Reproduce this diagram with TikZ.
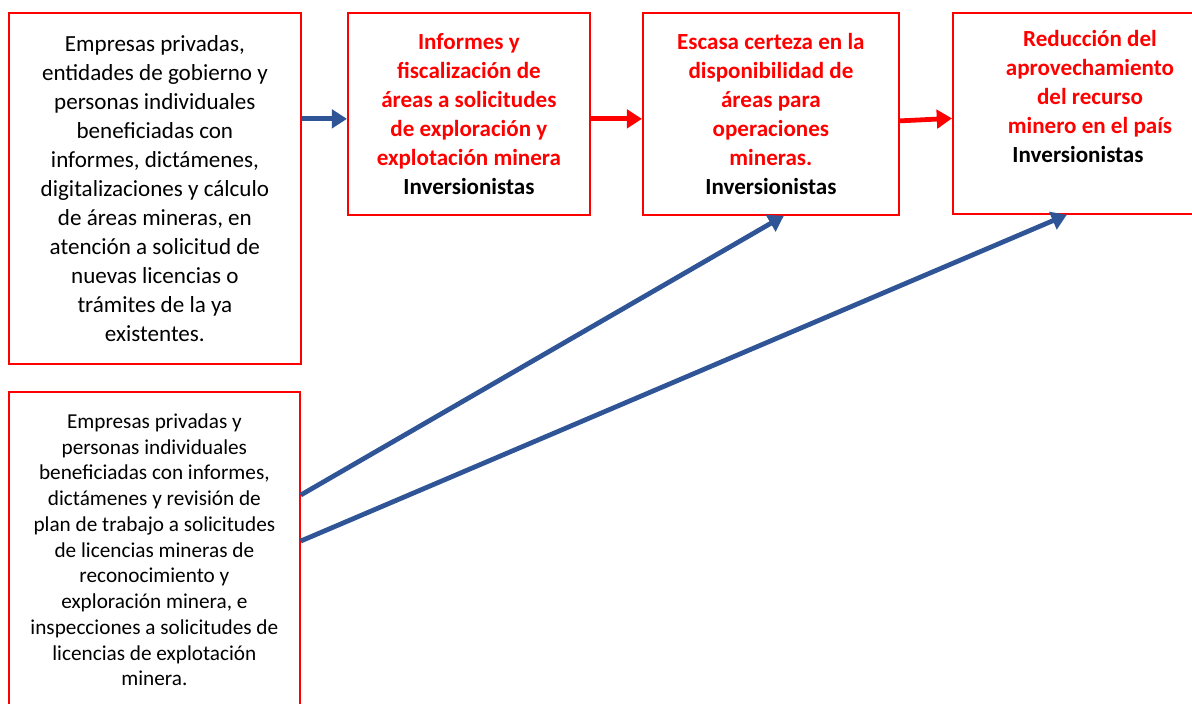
\documentclass[tikz,border=0pt]{standalone}
\usepackage{fontspec}
\setmainfont{Carlito}
\usepackage{xcolor}
\usepackage{tikz}
\usetikzlibrary{arrows.meta,positioning}
\definecolor{boxred}{HTML}{FF0000}
\definecolor{arrblue}{HTML}{2F5597}
\newcommand{\bigtxt}{\fontsize{16.4}{20.6}\selectfont}
\newcommand{\smalltxt}{\fontsize{15.1}{18.3}\selectfont}

\begin{document}
\begin{tikzpicture}[
x=0.025cm,y=-0.025cm,
box/.style={draw=boxred,line width=1.2pt,anchor=north west,align=center,inner sep=0pt,font=\bigtxt},
redtxt/.style={font=\bigtxt\bfseries,text=boxred,align=center},
barr/.style={-{Triangle[length=3.8mm,width=4.6mm]},line width=3.4pt,color=arrblue},
rarr/.style={-{Triangle[length=3.8mm,width=4.6mm]},line width=3.4pt,color=boxred}
]
\useasboundingbox (0,0) rectangle (1192,704);
\begin{scope}
\clip (0,0) rectangle (1192,704);
\node[box,minimum width=7.3cm,minimum height=8.775cm] (b1) at (8,12) {Empresas privadas,\\entidades de gobierno y\\personas individuales\\beneficiadas con\\informes, dictámenes,\\digitalizaciones y cálculo\\de áreas mineras, en\\atención a solicitud de\\nuevas licencias o\\trámites de la ya\\existentes.};
\node[box,minimum width=6.05cm,minimum height=5.05cm] (b2) at (347,12) {\textcolor{boxred}{\bfseries Informes y}\\\textcolor{boxred}{\bfseries fiscalización de}\\\textcolor{boxred}{\bfseries áreas a solicitudes}\\\textcolor{boxred}{\bfseries de exploración y}\\\textcolor{boxred}{\bfseries explotación minera}\\\bfseries Inversionistas};
\node[box,minimum width=6.4cm,minimum height=5.05cm] (b3) at (642,12) {\textcolor{boxred}{\bfseries Escasa certeza en la}\\\textcolor{boxred}{\bfseries disponibilidad de}\\\textcolor{boxred}{\bfseries áreas para}\\\textcolor{boxred}{\bfseries operaciones}\\\textcolor{boxred}{\bfseries mineras.}\\\bfseries Inversionistas};
\node[box,minimum width=6.95cm,minimum height=5.025cm] (b4) at (952,12) {};
\node[redtxt] (t4) at (1090,84) {Reducción del\\aprovechamiento\\del recurso\\minero en el país};
\node[font=\bigtxt\bfseries,below=-0.3mm of t4,xshift=-3mm] (i4) {Inversionistas};
\node[box,font=\smalltxt,minimum width=7.275cm,minimum height=7.9cm] (b5) at (8,391) {Empresas privadas y\\personas individuales\\beneficiadas con informes,\\dictámenes y revisión de\\plan de trabajo a solicitudes\\de licencias mineras de\\reconocimiento y\\exploración minera, e\\inspecciones a solicitudes de\\licencias de explotación\\minera.};
\end{scope}
\draw[barr] ([yshift=-1.25mm]b1.east |- b2.west) -- ([yshift=-1.25mm]b2.west);
\draw[rarr] ([yshift=-1.25mm]b2.east) -- ([yshift=-1.25mm]b3.west);
\draw[rarr] ([yshift=-1.75mm]b3.east) -- ([yshift=-1.25mm]b4.west);
\draw[barr] ([yshift=-26mm]b5.north east) -- ([xshift=3.25mm]b3.south);
\draw[barr] ([yshift=-37.5mm]b5.north east) -- ([xshift=-6.25mm]b4.south);
\end{tikzpicture}
\end{document}
